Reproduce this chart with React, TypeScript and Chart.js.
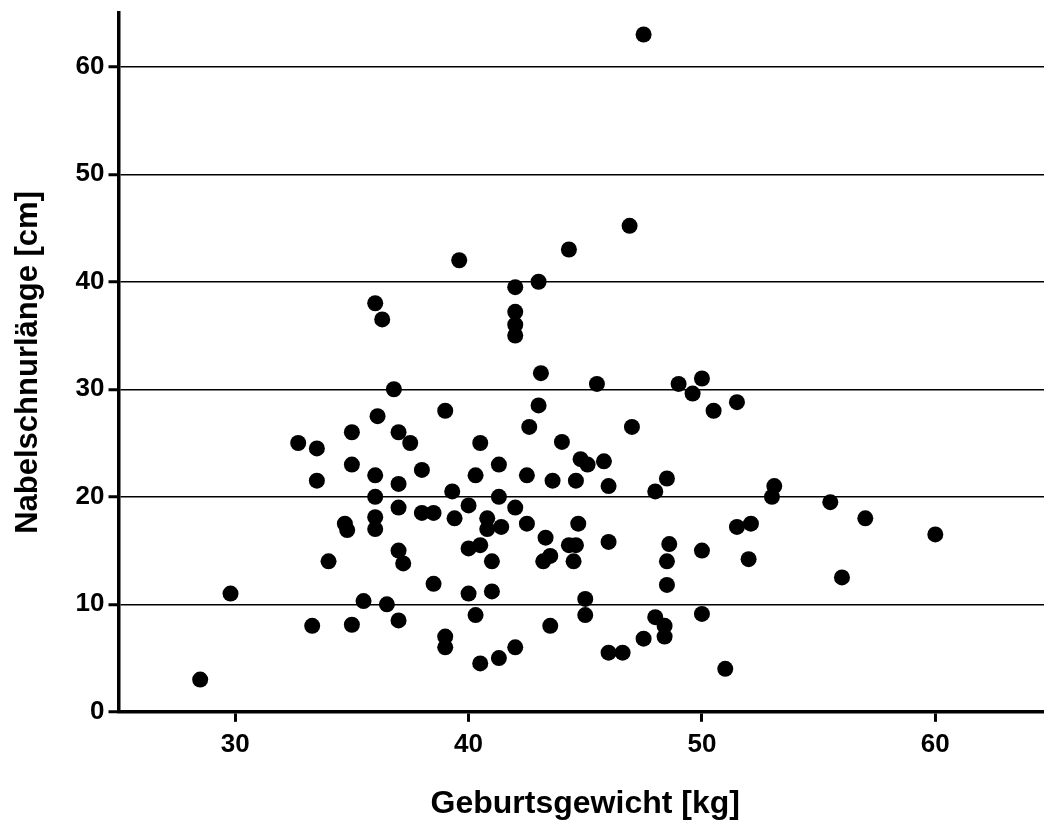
import React, { useEffect, useRef } from "react";
import { Chart, registerables } from "chart.js";

Chart.register(...registerables);

// Geburtsgewicht [kg]
const weights: number[] = [
  28.5, 29.8, 32.7, 33.5, 33.5, 33.3, 34.0, 34.7, 34.8, 35.0,
  35.0, 35.0, 35.5, 36.0, 36.3, 36.1, 36.0, 36.0, 36.0, 36.0,
  36.5, 36.8, 37.0, 37.0, 37.0, 37.0, 37.2, 37.0, 37.5, 38.0,
  38.0, 38.5, 38.5, 39.0, 39.0, 39.0, 39.3, 39.4, 39.6, 40.0,
  40.0, 40.0, 40.3, 40.3, 40.5, 40.5, 40.5, 40.8, 40.8, 41.0,
  41.0, 41.3, 41.3, 41.4, 41.3, 42.0, 42.0, 42.0, 42.0, 42.0,
  42.0, 42.5, 42.5, 42.6, 43.0, 43.0, 43.1, 43.3, 43.2, 43.5,
  43.5, 43.6, 44.0, 44.3, 44.3, 44.6, 44.5, 44.6, 44.7, 44.8,
  45.1, 45.0, 45.0, 45.5, 45.8, 46.0, 46.0, 46.0, 46.6, 46.9,
  47.0, 47.5, 47.5, 48.0, 48.0, 48.4, 48.4, 48.5, 48.6, 48.5,
  48.5, 49.0, 49.6, 50.0, 50.0, 50.0, 50.5, 51.0, 51.5, 51.5,
  52.1, 52.0, 53.1, 53.0, 55.5, 56.0, 57.0, 60.0,
];

// Nabelschnurlänge [cm]
const lengths: number[] = [
  3.0, 11.0, 25.0, 24.5, 21.5, 8.0, 14.0, 17.5, 16.9, 26.0,
  23.0, 8.1, 10.3, 38.0, 36.5, 27.5, 22.0, 20.0, 18.1, 17.0,
  10.0, 30.0, 26.0, 21.2, 19.0, 15.0, 13.8, 8.5, 25.0, 22.5,
  18.5, 18.5, 11.9, 28.0, 7.0, 6.0, 20.5, 18.0, 42.0, 19.2,
  15.2, 11.0, 22.0, 9.0, 25.0, 15.5, 4.5, 18.0, 17.0, 14.0,
  11.2, 23.0, 20.0, 17.2, 5.0, 39.5, 37.2, 36.0, 35.0, 19.0,
  6.0, 22.0, 17.5, 26.5, 40.0, 28.5, 31.5, 16.2, 14.0, 14.5,
  8.0, 21.5, 25.1, 43.0, 15.5, 15.5, 14.0, 21.5, 17.5, 23.5,
  23.0, 10.5, 9.0, 30.5, 23.3, 21.0, 15.8, 5.5, 5.5, 45.2,
  26.5, 63.0, 6.8, 20.5, 8.8, 8.0, 7.0, 21.7, 15.6, 14.0,
  11.8, 30.5, 29.6, 31.0, 15.0, 9.1, 28.0, 4.0, 28.8, 17.2,
  17.5, 14.2, 21.0, 20.0, 19.5, 12.5, 18.0, 16.5,
];

const xTicks: number[] = [30, 40, 50, 60];
const yTicks: number[] = [0, 10, 20, 30, 40, 50, 60];

const xTitle = "Geburtsgewicht [kg]";
const yTitle = "Nabelschnurlänge [cm]";

const FONT = "'Liberation Sans', Arial, Helvetica, sans-serif";

export default function App() {
  const ref = useRef<HTMLCanvasElement | null>(null);

  useEffect(() => {
    if (!ref.current) return;
    const points = weights.map((w, i) => ({ x: w, y: lengths[i] }));
    const chart = new Chart(ref.current, {
      type: "scatter",
      data: {
        datasets: [
          {
            data: points,
            backgroundColor: "#000",
            borderWidth: 0,
            pointRadius: 8,
            pointHoverRadius: 8,
          },
        ],
      },
      options: {
        animation: false,
        responsive: false,
        layout: { padding: { top: 13, right: 0, left: 0, bottom: 0 } },
        plugins: {
          legend: { display: false },
          tooltip: { enabled: false },
        },
        scales: {
          x: {
            type: "linear",
            min: 25,
            max: 65,
            afterBuildTicks: (scale: any) => {
              scale.ticks = xTicks.map((v) => ({ value: v }));
            },
            afterFit: (scale: any) => {
              scale.height = 113.2;
              scale.paddingLeft = 0;
              scale.paddingRight = 0;
              scale.paddingTop = 0;
              scale.paddingBottom = 0;
            },
            grid: {
              display: true,
              drawOnChartArea: false,
              drawTicks: true,
              tickLength: 10,
              tickWidth: 3,
              tickColor: "#000",
            },
            border: { display: true, color: "#000", width: 3.5 },
            ticks: {
              color: "#000",
              padding: 7,
              font: { family: FONT, weight: "bold", size: 26 },
            },
            title: {
              display: true,
              text: xTitle,
              color: "#000",
              font: { family: FONT, weight: "bold", size: 32 },
              padding: { top: 0, bottom: 2 },
            },
          },
          y: {
            type: "linear",
            min: 0,
            max: 65,
            afterBuildTicks: (scale: any) => {
              scale.ticks = yTicks.map((v) => ({ value: v }));
            },
            afterFit: (scale: any) => {
              scale.width = 118.5;
              scale.paddingLeft = 0;
              scale.paddingRight = 0;
              scale.paddingTop = 0;
              scale.paddingBottom = 0;
            },
            grid: {
              display: true,
              drawOnChartArea: true,
              drawTicks: true,
              color: "#000",
              lineWidth: 1.5,
              tickLength: 10,
              tickWidth: 3,
              tickColor: "#000",
            },
            border: { display: true, color: "#000", width: 3.5 },
            ticks: {
              color: "#000",
              padding: 4,
              font: { family: FONT, weight: "bold", size: 26 },
            },
            title: {
              display: true,
              text: yTitle,
              color: "#000",
              font: { family: FONT, weight: "bold", size: 31 },
              padding: { top: 10, bottom: 0 },
            },
          },
        },
      },
    });
    return () => chart.destroy();
  }, []);

  return (
    <div
      style={{
        position: "absolute",
        left: 0,
        top: 0,
        width: 1044,
        height: 825,
        overflow: "hidden",
        background: "#fff",
      }}
    >
      <canvas ref={ref} width={1060} height={825} style={{ display: "block", width: 1060, height: 825 }} />
    </div>
  );
}
